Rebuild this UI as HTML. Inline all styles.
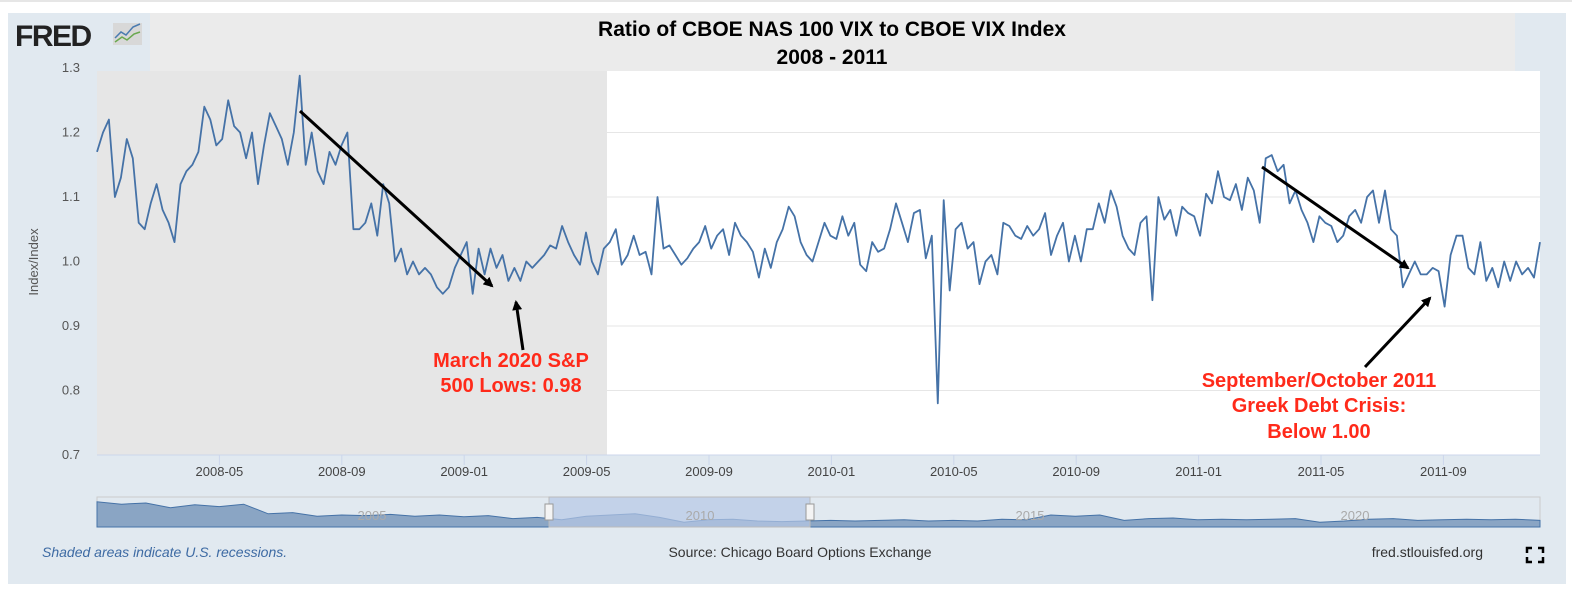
<!DOCTYPE html>
<html><head><meta charset="utf-8">
<style>
body{margin:0;width:1572px;height:590px;background:#fff;font-family:"Liberation Sans",sans-serif;overflow:hidden}
svg{display:block}
</style></head>
<body>
<svg width="1572" height="590" xmlns="http://www.w3.org/2000/svg">
<line x1="0" y1="1" x2="1572" y2="1" stroke="#ccc"/>
<rect x="8" y="13" width="1558" height="571" fill="#e1e9f0"/>
<rect x="150" y="13" width="1365" height="58" fill="#ebebeb"/>
<rect x="97" y="71" width="1443" height="384" fill="#fff"/>
<rect x="97" y="71" width="510" height="384" fill="#e6e6e6"/>
<g id="grid"></g>
<g id="yticks" font-size="13" fill="#555" text-anchor="end"></g>
<g id="xticks" font-size="13" fill="#444" text-anchor="middle"></g>
<text x="38" y="262" transform="rotate(-90 38 262)" font-size="13" fill="#555" text-anchor="middle">Index/Index</text>
<path id="series" fill="none" stroke="#4572a7" stroke-width="1.8" stroke-linejoin="round"/>
<g>
<text x="15" y="46" font-size="30" font-weight="bold" fill="#222" letter-spacing="-1.5">FRED</text>
<rect x="113" y="23" width="29" height="22" fill="#d8d8d8"/>
<polyline points="115,38 121,32 126,35 133,27 140,24" fill="none" stroke="#4a7bb0" stroke-width="1.5"/>
<polyline points="115,42 122,37 127,40 134,34 140,32" fill="none" stroke="#6aa84f" stroke-width="1.5"/>
</g>
<text x="832" y="36" font-size="21" font-weight="bold" text-anchor="middle" fill="#000">Ratio of CBOE NAS 100 VIX to CBOE VIX Index</text>
<text x="832" y="64" font-size="21" font-weight="bold" text-anchor="middle" fill="#000">2008 - 2011</text>
<defs><marker id="ah" markerWidth="10" markerHeight="10" refX="8" refY="5" orient="auto" markerUnits="userSpaceOnUse"><path d="M0,0 L10,5 L0,10 z" fill="#000"/></marker></defs>
<g stroke="#000" stroke-width="3" marker-end="url(#ah)">
<line x1="300" y1="111" x2="492" y2="286"/>
<line x1="523" y1="350" x2="516" y2="302"/>
<line x1="1262" y1="167" x2="1408" y2="268"/>
<line x1="1365" y1="367" x2="1430" y2="298"/>
</g>
<g font-size="20" font-weight="bold" fill="#ff2a1a" text-anchor="middle">
<text x="511" y="367">March 2020 S&amp;P</text><text x="511" y="392">500 Lows: 0.98</text></g>
<g font-size="20" font-weight="bold" fill="#ff2a1a" text-anchor="middle">
<text x="1319" y="387">September/October 2011</text><text x="1319" y="412">Greek Debt Crisis:</text><text x="1319" y="438">Below 1.00</text></g>
<g>
<rect x="97" y="497" width="1443" height="30" fill="#e1e9f0" stroke="#ccc"/>
<path id="navarea" fill="#8aa5c4" stroke="#4572a7" stroke-width="1"/>
<rect x="549" y="497" width="261" height="30" fill="#b7c8e6" fill-opacity="0.7" stroke="#bbb"/>
<g font-size="13" fill="#aaa" text-anchor="middle"><text x="372" y="520">2005</text><text x="700" y="520">2010</text><text x="1030" y="520">2015</text><text x="1355" y="520">2020</text></g>
<rect x="545" y="504" width="8" height="16" fill="#f4f4f4" stroke="#999"/>
<rect x="806" y="504" width="8" height="16" fill="#f4f4f4" stroke="#999"/>
</g>
<text x="42" y="557" font-size="14" font-style="italic" fill="#3d6aa3">Shaded areas indicate U.S. recessions.</text>
<text x="800" y="557" font-size="14" fill="#333" text-anchor="middle">Source: Chicago Board Options Exchange</text>
<text x="1483" y="557" font-size="14" fill="#333" text-anchor="end">fred.stlouisfed.org</text>
<g stroke="#000" stroke-width="2.5" fill="none">
<path d="M1527,553 v-5 h5 M1538,548 h5 v5 M1543,557 v5 h-5 M1532,562 h-5 v-5"/></g>
</svg>
<script>
const yTicks=[0.7,0.8,0.9,1.0,1.1,1.2,1.3];
const yTickLabels=["0.7","0.8","0.9","1.0","1.1","1.2","1.3"];
const xTickLabels=["2008-05","2008-09","2009-01","2009-05","2009-09","2010-01","2010-05","2010-09","2011-01","2011-05","2011-09"];
const xTickMonths=[4,8,12,16,20,24,28,32,36,40,44];
const ratioValues=[1.17,1.20,1.22,1.10,1.13,1.19,1.16,1.06,1.05,1.09,1.12,1.08,1.06,1.03,1.12,1.14,1.15,1.17,1.24,1.22,1.18,1.19,1.25,1.21,1.20,1.16,1.20,1.12,1.18,1.23,1.21,1.19,1.15,1.20,1.288,1.15,1.20,1.14,1.12,1.17,1.15,1.18,1.20,1.05,1.05,1.06,1.09,1.04,1.12,1.09,1.00,1.02,0.98,1.00,0.98,0.99,0.98,0.96,0.95,0.96,0.99,1.01,1.03,
0.95,1.02,0.98,1.02,0.99,1.01,0.97,0.99,0.97,1.0,0.99,1.0,1.01,1.025,1.02,1.055,1.03,1.01,0.995,1.045,1.0,0.98,1.02,1.03,1.05,0.995,1.01,1.04,1.01,1.015,0.98,1.10,1.02,1.025,1.01,0.995,1.005,1.02,1.03,1.055,1.02,1.04,1.05,1.01,1.06,1.04,1.03,1.015,0.975,1.02,0.99,1.03,1.05,1.085,1.07,1.03,1.01,1.0,1.03,1.06,1.04,
1.035,1.07,1.04,1.06,0.995,0.985,1.03,1.015,1.02,1.05,1.09,1.06,1.03,1.075,1.08,1.005,1.04,0.78,1.095,0.955,1.05,1.06,1.02,1.03,0.965,1.0,1.01,0.98,1.06,1.055,1.04,1.035,1.055,1.04,1.05,1.075,1.01,1.04,1.06,1.0,1.04,1.0,1.05,1.05,1.09,1.06,1.11,1.085,1.04,1.02,1.01,1.06,1.07,0.94,1.10,1.065,1.08,1.04,1.085,1.075,1.07,
1.04,1.105,1.09,1.14,1.10,1.095,1.12,1.08,1.13,1.11,1.06,1.16,1.165,1.14,1.15,1.09,1.11,1.08,1.06,1.03,1.07,1.06,1.055,1.03,1.04,1.07,1.08,1.06,1.10,1.11,1.06,1.11,1.05,1.04,0.96,0.98,1.0,0.98,0.98,0.99,0.985,0.93,1.01,1.04,1.04,0.99,0.98,1.03,0.97,0.99,0.96,1.0,0.97,1.0,0.98,0.99,0.975,1.03];
const navValues=[1.32,1.28,1.30,1.22,1.27,1.24,1.28,1.12,1.14,1.08,1.10,1.09,1.11,1.08,1.10,1.07,1.09,1.04,1.06,1.02,1.08,1.10,1.12,1.06,0.98,1.02,1.03,1.00,0.99,1.00,1.01,1.00,1.01,1.02,1.00,1.01,1.00,1.03,1.02,1.10,1.08,1.10,1.01,1.04,1.05,1.02,1.03,1.02,1.03,1.04,0.98,1.00,1.03,1.04,1.01,1.02,1.03,1.02,1.03,1.01];
const X0=97,X1=1540,Y0=455,Y1=68;
function yScale(v){return Y0-(v-0.7)/(1.3-0.7)*(Y0-Y1);}
function xIndex(i,n){return X0+i/(n-1)*(X1-X0);}
function xMonth(m){return X0+m*30.6;}
const NS="http://www.w3.org/2000/svg";
const grid=document.getElementById('grid'),yt=document.getElementById('yticks'),xt=document.getElementById('xticks');
yTicks.forEach((v,k)=>{
 const y=yScale(v);
 if(k>0&&k<yTicks.length-1){const l=document.createElementNS(NS,'line');
 
 
 l.setAttribute('x1',X0);l.setAttribute('x2',X1);l.setAttribute('y1',y);l.setAttribute('y2',y);l.setAttribute('stroke','#e6e6e6');grid.appendChild(l);}
 const t=document.createElementNS(NS,'text');
 
 
 t.setAttribute('x',80);t.setAttribute('y',y+4);t.textContent=yTickLabels[k];yt.appendChild(t);
});
const base=document.createElementNS(NS,'line');


base.setAttribute('x1',X0);base.setAttribute('x2',X1);base.setAttribute('y1',Y0);base.setAttribute('y2',Y0);base.setAttribute('stroke','#ccd6eb');grid.appendChild(base);
xTickMonths.forEach((m,k)=>{
 const x=xMonth(m);
 const l=document.createElementNS(NS,'line');
 
 
 l.setAttribute('x1',x);l.setAttribute('x2',x);l.setAttribute('y1',Y0);l.setAttribute('y2',Y0+10);l.setAttribute('stroke','#ccd6eb');xt.appendChild(l);
 const t=document.createElementNS(NS,'text');
 
 
 t.setAttribute('x',x);t.setAttribute('y',Y0+21);t.textContent=xTickLabels[k];xt.appendChild(t);
});
let d='';const n=ratioValues.length;
ratioValues.forEach((v,i)=>{d+=(i?'L':'M')+xIndex(i,n).toFixed(1)+','+yScale(v).toFixed(1);});
document.getElementById('series').setAttribute('d',d);
function navY(v){return 527-(v-0.9)/(1.4-0.9)*30;}
let nd='M'+X0+',527';const nn=navValues.length;
navValues.forEach((v,i)=>{nd+='L'+xIndex(i,nn).toFixed(1)+','+navY(v).toFixed(1);});
nd+='L'+X1+',527Z';
document.getElementById('navarea').setAttribute('d',nd);
</script>
</body></html>
